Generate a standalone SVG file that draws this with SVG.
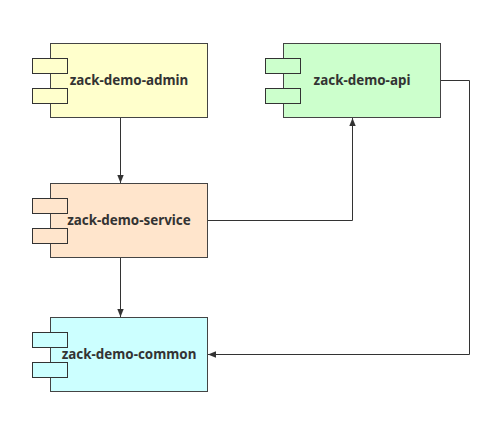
<svg xmlns="http://www.w3.org/2000/svg" width="504" height="439" viewBox="0 0 504 439">
<style>
.box{stroke:#444;stroke-width:1}
.port{stroke:#333;stroke-width:1}
.lbl{font-family:"Noto Sans","DejaVu Sans",sans-serif;font-weight:bold;font-size:13.4px;fill:#333;text-anchor:middle}
.edge{fill:none;stroke:#333;stroke-width:1}
</style>
<defs>
<marker id="arr" viewBox="0 0 10 10" refX="10" refY="5" markerWidth="8" markerHeight="8" markerUnits="userSpaceOnUse" orient="auto">
<path d="M0,1 L10,5 L0,9 Z" fill="#333"/>
</marker>
</defs>
<rect width="504" height="439" fill="#fff"/>
<g id="admin">
<rect class="box" x="50.5" y="43.5" width="157" height="74" fill="#FFFFCC"/>
<rect class="port" x="32.5" y="58.5" width="35" height="15" fill="#FFFFCC"/>
<rect class="port" x="32.5" y="88.5" width="35" height="15" fill="#FFFFCC"/>
<text class="lbl" x="129" y="85">zack-demo-admin</text>
</g>
<g id="api">
<rect class="box" x="283.5" y="43.5" width="157" height="74" fill="#CCFFCC"/>
<rect class="port" x="265.5" y="58.5" width="35" height="15" fill="#CCFFCC"/>
<rect class="port" x="265.5" y="88.5" width="35" height="15" fill="#CCFFCC"/>
<text class="lbl" x="362" y="85">zack-demo-api</text>
</g>
<g id="service">
<rect class="box" x="50.5" y="183.5" width="157" height="74" fill="#FFE5CC"/>
<rect class="port" x="32.5" y="198.5" width="35" height="15" fill="#FFE5CC"/>
<rect class="port" x="32.5" y="228.5" width="35" height="15" fill="#FFE5CC"/>
<text class="lbl" x="129" y="225">zack-demo-service</text>
</g>
<g id="common">
<rect class="box" x="50.5" y="317.5" width="157" height="74" fill="#CCFFFF"/>
<rect class="port" x="32.5" y="332.5" width="35" height="15" fill="#CCFFFF"/>
<rect class="port" x="32.5" y="362.5" width="35" height="15" fill="#CCFFFF"/>
<text class="lbl" x="129" y="359">zack-demo-common</text>
</g>
<g id="connectors">
<path class="edge" d="M120.5,118 L120.5,183" marker-end="url(#arr)"/>
<path class="edge" d="M120.5,258 L120.5,317" marker-end="url(#arr)"/>
<path class="edge" d="M208,220.5 L352.5,220.5 L352.5,118" marker-end="url(#arr)"/>
<path class="edge" d="M441,80.5 L469.5,80.5 L469.5,354.5 L208,354.5" marker-end="url(#arr)"/>
</g>
</svg>
